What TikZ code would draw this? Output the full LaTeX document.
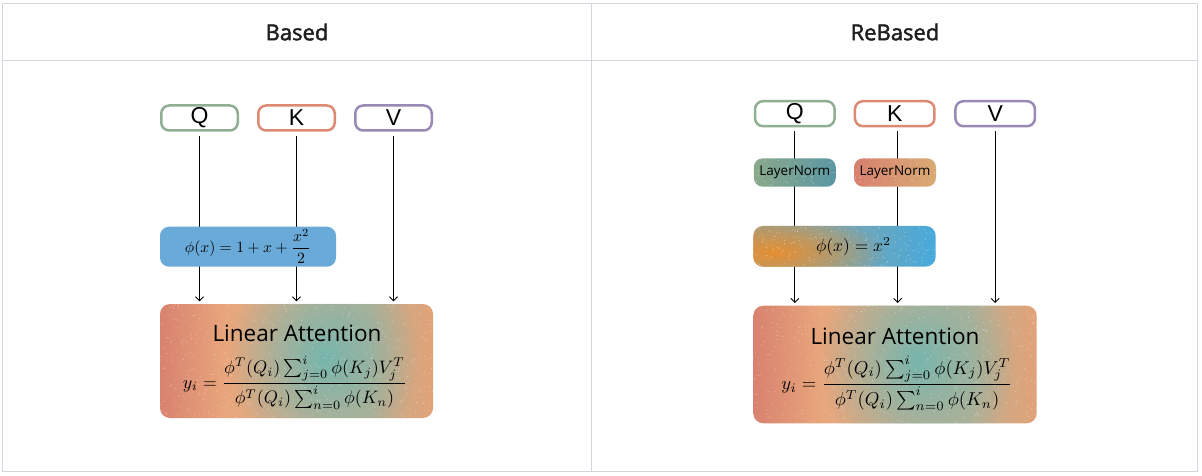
\documentclass[tikz,border=0pt]{standalone}
\usepackage[no-math]{fontspec}
\usepackage{graphicx}
\usetikzlibrary{arrows.meta,calc,fadings}
\setmainfont{Liberation Sans}
\newfontfamily\hdrfont{Open Sans}[FakeBold=2]
\newfontfamily\interfont{Open Sans}
\definecolor{gridc}{HTML}{D2D6DC}
\definecolor{qcol}{HTML}{8FAE92}
\definecolor{kcol}{HTML}{DC8A74}
\definecolor{vcol}{HTML}{9A88B5}
\definecolor{phiblue}{HTML}{6AAAD9}
\definecolor{laA}{HTML}{D8826F}
\definecolor{laB}{HTML}{E8A67C}
\definecolor{laC}{HTML}{D2AD8A}
\definecolor{laD}{HTML}{BDAF92}
\definecolor{laF}{HTML}{E3A277}
\definecolor{laTeal}{HTML}{62B8B5}
\definecolor{phA}{HTML}{9AA08E}
\definecolor{phB}{HTML}{80A6AA}
\definecolor{phD}{HTML}{47A9DC}
\definecolor{phOr}{HTML}{E68F32}
\definecolor{lqA}{HTML}{8AA98A}
\definecolor{lqB}{HTML}{5A97A3}
\definecolor{lkA}{HTML}{D7806F}
\definecolor{lkB}{HTML}{D9AB73}
\pgfdeclarehorizontalshading{laShade}{100bp}{color(0bp)=(laA); color(25bp)=(laA); color(37bp)=(laB); color(50bp)=(laC); color(63bp)=(laD); color(75bp)=(laF); color(100bp)=(laF)}
\pgfdeclarehorizontalshading{phShade}{100bp}{color(0bp)=(phA); color(25bp)=(phA); color(45bp)=(phB); color(75bp)=(phD); color(100bp)=(phD)}
\pgfdeclarehorizontalshading{lqShade}{100bp}{color(0bp)=(lqA); color(25bp)=(lqA); color(75bp)=(lqB); color(100bp)=(lqB)}
\pgfdeclarehorizontalshading{lkShade}{100bp}{color(0bp)=(lkA); color(25bp)=(lkA); color(75bp)=(lkB); color(100bp)=(lkB)}
\tikzfading[name=blob, inner color=transparent!0, outer color=transparent!100]
\pgfdeclarelayer{bg}
\pgfsetlayers{bg,main}
\newcommand{\laformula}{$\displaystyle y_i = \frac{\phi^T(Q_i)\sum_{j=0}^{i}\phi(K_j)V_j^T}{\phi^T(Q_i)\sum_{n=0}^{i}\phi(K_n)}$}
\tikzset{
  hdr/.style={font=\hdrfont\fontsize{22}{26}\selectfont, text=black!88},
  inbox/.style={draw, line width=2.5pt, rounded corners=8pt, fill=white, minimum height=25pt, inner sep=0pt, font=\fontsize{23}{26}\selectfont},
  lnbox/.style={rounded corners=9pt, minimum width=82pt, minimum height=28.4pt, inner sep=0pt},
  lntxt/.style={font=\interfont\fontsize{13.5}{16}\selectfont, inner sep=0pt},
  labox/.style={rounded corners=10pt, shading=laShade, inner sep=0pt},
  latitle/.style={font=\interfont\fontsize{22.5}{25}\selectfont, inner sep=0pt},
  mathtxt/.style={inner sep=0pt},
  conn/.style={-{Straight Barb[length=4pt,width=8pt]}, line width=0.9pt, shorten <=4pt, shorten >=2.5pt},
}
\begin{document}
\begin{tikzpicture}[x=1pt,y=-1pt]
\useasboundingbox (0,0) rectangle (1202,476);
\begin{pgfonlayer}{bg}
\fill[white] (0,0) rectangle (1202,476);
\end{pgfonlayer}
% table
\draw[gridc, line width=1pt] (2.5,3.5) rectangle (1197,471);
\draw[gridc, line width=1pt] (2.5,60.5) -- (1197,60.5);
\draw[gridc, line width=1pt] (591.5,3.5) -- (591.5,471);
\node[hdr] (hB) at (297,32) {Based};
\node[hdr] (hR) at (895,32) {ReBased};
% ---------- left panel ----------
\node[inbox, draw=qcol, minimum width=76.5pt] (qL) at (199.5,118) {Q};
\node[inbox, draw=kcol, minimum width=76.5pt] (kL) at (296.5,118) {K};
\node[inbox, draw=vcol, minimum width=76.5pt] (vL) at (393.5,118) {V};
\node[rounded corners=9pt, fill=phiblue, minimum width=176pt, minimum height=40pt, inner sep=0pt] (phiL) at (248,246.7) {};
\node[labox, minimum width=273pt, minimum height=114pt] (laL) at (296.5,361) {};
% ---------- right panel ----------
\node[inbox, draw=qcol, minimum width=79.5pt] (qR) at (794.8,113.7) {Q};
\node[inbox, draw=kcol, minimum width=79.5pt] (kR) at (894.7,113.7) {K};
\node[inbox, draw=vcol, minimum width=79.5pt] (vR) at (995.2,113.7) {V};
\node[lnbox, shading=lqShade] (lnQ) at (794.8,172.5) {};
\node[lnbox, shading=lkShade] (lnK) at (895,172.5) {};
\node[rounded corners=10pt, shading=phShade, minimum width=182.4pt, minimum height=40.7pt, inner sep=0pt] (phiR) at (844.5,246.3) {};
\node[labox, minimum width=283.4pt, minimum height=117.6pt] (laR) at (895,364.5) {};
% colour blobs
\begin{scope}
  \clip[rounded corners=10pt] (laL.south west) rectangle (laL.north east);
  \fill[laTeal, path fading=blob, fill opacity=0.8] ($(laL.west)!0.6!(laL.east)+(0,-4)$) ellipse (95pt and 105pt);
\end{scope}
\begin{scope}
  \clip[rounded corners=10pt] (laR.south west) rectangle (laR.north east);
  \fill[laTeal, path fading=blob, fill opacity=0.8] ($(laR.west)!0.58!(laR.east)+(0,-4)$) ellipse (98pt and 108pt);
\end{scope}
\begin{scope}
  \clip[rounded corners=10pt] (phiR.south west) rectangle (phiR.north east);
  \fill[phOr, path fading=blob, fill opacity=1] ($(phiR.west)!0.12!(phiR.east)+(0,6)$) ellipse (110pt and 38pt);
\end{scope}
% noise
\pgfmathsetseed{42}
\foreach \bx/\n in {laL/500,laR/520,phiR/200,lnQ/60,lnK/60}{
  \begin{scope}
    \clip[rounded corners=9pt] (\bx.south west) rectangle (\bx.north east);
    \foreach \i in {1,...,\n}{
      \path let \p1=(\bx.south west), \p2=(\bx.north east) in
        \pgfextra{\pgfmathsetmacro{\rx}{rnd}\pgfmathsetmacro{\ry}{rnd}}
        [fill=white, opacity=0.45] (\x1+\rx*\x2-\rx*\x1, \y1+\ry*\y2-\ry*\y1) circle (0.5pt);
    }
  \end{scope}
}
% texts
\node[lntxt] (lnQt) at (lnQ) {LayerNorm};
\node[lntxt] (lnKt) at (lnK) {LayerNorm};
\node[mathtxt] (phiLt) at (248,246.2) {\resizebox{126pt}{!}{$\displaystyle \phi(x) = 1 + x + \frac{x^2}{2}$}};
\node[mathtxt] (phiRt) at (853.5,246.5) {\resizebox{75pt}{!}{$\phi(x) = x^2$}};
\node[latitle] (laLt) at (297,333.3) {Linear Attention};
\node[mathtxt] (laLf) at (295,382.5) {\resizebox{224pt}{!}{\laformula}};
\node[latitle] (laRt) at (895,336) {Linear Attention};
\node[mathtxt] (laRf) at (897,383.5) {\resizebox{231pt}{!}{\laformula}};
% connectors
\begin{pgfonlayer}{bg}
\draw[conn] (qL.south) -- (qL.south |- laL.north);
\draw[conn] (kL.south) -- (kL.south |- laL.north);
\draw[conn] (vL.south) -- (vL.south |- laL.north);
\draw[conn] (qR.south) -- (qR.south |- laR.north);
\draw[conn] ([xshift=3pt]kR.south) -- ([xshift=3pt]kR.south |- laR.north);
\draw[conn] (vR.south) -- (vR.south |- laR.north);
\end{pgfonlayer}
\end{tikzpicture}
\end{document}
